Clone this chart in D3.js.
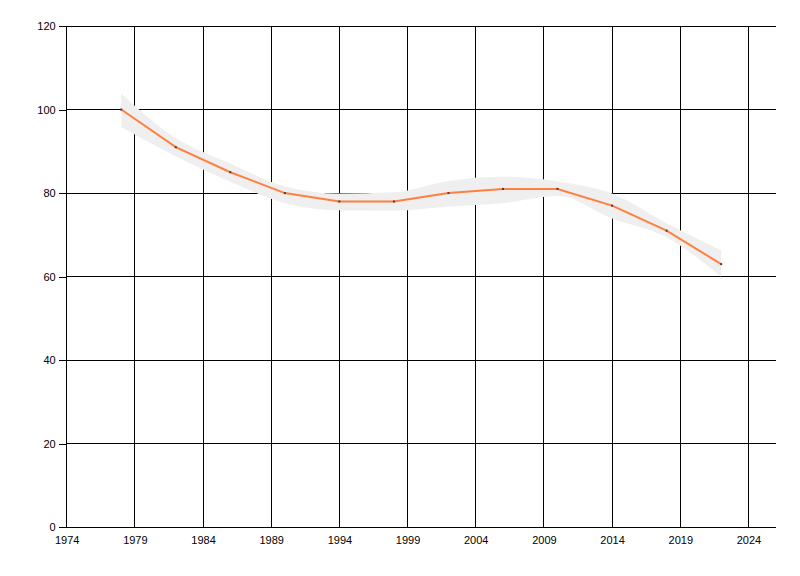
<!DOCTYPE html>
<html>
<head>
<meta charset="utf-8">
<script src="https://cdn.jsdelivr.net/npm/d3@7"></script>
<style>
  body { margin: 0; background: #fff; }
  svg text { font-family: "Liberation Sans", Arial, sans-serif; font-size: 11px; fill: #000; }
  .crisp line, .crisp path.domain { shape-rendering: crispEdges; }
</style>
</head>
<body>
<svg id="chart" width="800" height="576"></svg>
<script>
// values
const years = [1978, 1982, 1986, 1990, 1994, 1998, 2002, 2006, 2010, 2014, 2018, 2022];
const values = [100, 91, 85, 80, 78, 78, 80, 81, 81, 77, 71, 63];
const bandUpper = [103.8, 93.2, 87.1, 81.6, 79.9, 80.2, 82.9, 83.9, 82.8, 79.9, 72.8, 66.3];
const bandLower = [95.8, 88.8, 82.7, 77.6, 75.9, 75.8, 76.8, 77.6, 79.3, 73.9, 69.4, 60.0];
const xTicks = [1974, 1979, 1984, 1989, 1994, 1999, 2004, 2009, 2014, 2019, 2024];
const yTicks = [0, 20, 40, 60, 80, 100, 120];

const margin = { top: 26, right: 24.3, bottom: 48.7, left: 66.7 };
const width = 800, height = 576;

const svg = d3.select("#chart");

const x = d3.scaleLinear().domain([1974, 2026]).range([margin.left, width - margin.right]);
const y = d3.scaleLinear().domain([0, 120]).range([height - margin.bottom, margin.top]);

const rows = years.map((yr, i) => ({ yr, v: values[i], hi: bandUpper[i], lo: bandLower[i] }));

// grid
const grid = svg.append("g").attr("class", "crisp");
grid.selectAll("line.v")
  .data(xTicks)
  .join("line")
  .attr("class", "v")
  .attr("x1", d => x(d)).attr("x2", d => x(d))
  .attr("y1", y(120)).attr("y2", y(0))
  .attr("stroke", "#000").attr("stroke-width", 1);

grid.selectAll("line.h")
  .data(yTicks)
  .join("line")
  .attr("class", "h")
  .attr("x1", x(1974)).attr("x2", x(2026))
  .attr("y1", d => y(d)).attr("y2", d => y(d))
  .attr("stroke", "#000").attr("stroke-width", 1);

// confidence band
const area = d3.area()
  .x(d => x(d.yr))
  .y0(d => y(d.lo))
  .y1(d => y(d.hi))
  .curve(d3.curveMonotoneX);

svg.append("path")
  .datum(rows)
  .attr("d", area)
  .attr("fill", "#efefef");

// line
const line = d3.line().x(d => x(d.yr)).y(d => y(d.v));
svg.append("path")
  .datum(rows)
  .attr("d", line)
  .attr("fill", "none")
  .attr("stroke", "#ff7f3f")
  .attr("stroke-width", 2);

svg.append("g")
  .selectAll("rect")
  .data(rows)
  .join("rect")
  .attr("x", d => x(d.yr) - 1)
  .attr("y", d => y(d.v) - 1)
  .attr("width", 2).attr("height", 2)
  .attr("fill", "#404040");

// axes
const yAxis = svg.append("g")
  .attr("class", "crisp")
  .attr("transform", `translate(${margin.left},0)`)
  .call(d3.axisLeft(y).tickValues(yTicks).tickSize(8).tickPadding(3).tickFormat(d3.format("d")));
yAxis.select(".domain").attr("stroke", "#000").attr("d", `M0,${y(120)}V${y(0)}`);

const xAxis = svg.append("g")
  .attr("class", "crisp")
  .attr("transform", `translate(0,${y(0)})`)
  .call(d3.axisBottom(x).tickValues(xTicks).tickSize(0).tickPadding(9).tickFormat(d3.format("d")));
xAxis.select(".domain").attr("stroke", "#000").attr("d", `M${x(1974)},0H${x(2026)}`);

svg.selectAll(".tick text").attr("font-family", null).attr("font-size", null).attr("fill", "#000");
</script>
</body>
</html>
